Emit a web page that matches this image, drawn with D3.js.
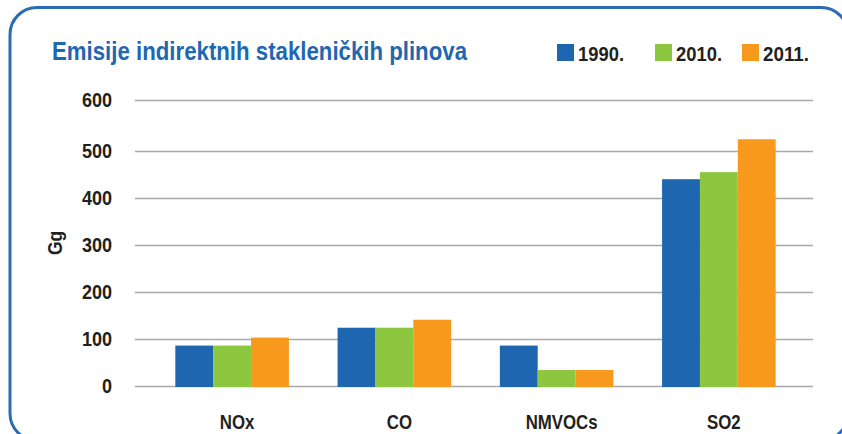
<!DOCTYPE html>
<html>
<head>
<meta charset="utf-8">
<script src="https://d3js.org/d3.v7.min.js"></script>
<style>
    body { margin: 0; background: #fff; }
    svg { display: block; }
    text {
        font-family: "Liberation Sans", Arial, sans-serif;
        font-weight: bold;
        fill: #231f20;
    }
    .grid line { stroke: #a7a9ac; stroke-width: 1.5px; }
    .title { fill: #1f67b1; }
</style>
</head>
<body>
<svg id="chart"></svg>
<script>
    // data
    var pollutants = ["NOx", "CO", "NMVOCs", "SO2"];
    var years = ["1990.", "2010.", "2011."];
    var colors = ["#1f66b0", "#8dc63f", "#f7991c"];
    var v1990 = [86, 124, 86, 440];
    var v2010 = [86, 124, 34, 455];
    var v2011 = [103, 141, 34, 523];
    var yTicks = [0, 100, 200, 300, 400, 500, 600];

    var series = [v1990, v2010, v2011];
    var rows = pollutants.map(function(p, i) {
        return {name: p, values: series.map(function(s, j) { return {year: years[j], value: s[i], k: j}; })};
    });

    var width = 842, height = 434;

    // the original uses a condensed face, so squeeze text horizontally
    function condense(sel, k) {
        sel.each(function() {
            var w = this.getComputedTextLength();
            d3.select(this)
                .attr("textLength", w * k)
                .attr("lengthAdjust", "spacingAndGlyphs");
        });
    }

    var svg = d3.select("#chart")
        .attr("width", width)
        .attr("height", height);

    // rounded frame, partly cut off at right and bottom
    svg.append("rect")
        .attr("x", 10)
        .attr("y", 7.5)
        .attr("width", 838)
        .attr("height", 433)
        .attr("rx", 27)
        .attr("fill", "none")
        .attr("stroke", "#2b6cb5")
        .attr("stroke-width", 3);

    var x0 = d3.scaleBand()
        .domain(pollutants)
        .range([151, 800])
        .paddingInner(0.3)
        .paddingOuter(0.15);

    var x1 = d3.scaleBand()
        .domain(years)
        .range([0, x0.bandwidth()]);

    // original chart has the top step a bit taller
    var y = d3.scaleLinear()
        .domain([0, 500, 600])
        .range([386, 151, 100]);

    var yAxis = d3.axisLeft(y)
        .tickValues(yTicks)
        .tickSize(-678)
        .tickPadding(23);

    var gy = svg.append("g")
        .attr("class", "grid")
        .attr("transform", "translate(135,0)")
        .call(yAxis)
        .attr("font-family", null)
        .attr("font-size", null);
    gy.select(".domain").remove();
    gy.selectAll("line").attr("stroke", null);
    gy.selectAll("text")
        .attr("font-size", 20.5)
        .attr("fill", "#231f20")
        .call(condense, 0.88);

    // bars
    svg.append("g").selectAll("g")
        .data(rows)
        .join("g")
        .attr("transform", function(d) { return "translate(" + x0(d.name) + ",0)"; })
        .selectAll("rect")
        .data(function(d) { return d.values; })
        .join("rect")
        .attr("x", function(d) { return x1(d.year); })
        .attr("width", x1.bandwidth())
        .attr("y", function(d) { return y(d.value); })
        .attr("height", function(d) { return y(0) - y(d.value) + 1; })
        .attr("fill", function(d) { return colors[d.k]; });

    // category labels
    svg.append("g").selectAll("text")
        .data(pollutants)
        .join("text")
        .attr("x", function(d) { return x0(d) + x0.bandwidth() / 2 + 5; })
        .attr("y", 429)
        .attr("text-anchor", "middle")
        .attr("font-size", 20.5)
        .text(function(d) { return d; })
        .call(condense, 0.82);

    // y label
    svg.append("text")
        .attr("transform", "translate(62,243) rotate(-90)")
        .attr("text-anchor", "middle")
        .attr("font-size", 20.5)
        .text("Gg")
        .call(condense, 0.85);

    // title
    svg.append("text")
        .attr("class", "title")
        .attr("x", 52)
        .attr("y", 60)
        .attr("font-size", 25)
        .attr("textLength", 415)
        .attr("lengthAdjust", "spacingAndGlyphs")
        .text("Emisije indirektnih stakleničkih plinova");

    // legend
    var legX = [557, 655, 742];
    var leg = svg.append("g").selectAll("g")
        .data(years)
        .join("g")
        .attr("transform", function(d, i) { return "translate(" + legX[i] + ",44)"; });
    leg.append("rect")
        .attr("width", 17)
        .attr("height", 17)
        .attr("fill", function(d, i) { return colors[i]; });
    leg.append("text")
        .attr("x", 21)
        .attr("y", 16.5)
        .attr("font-size", 20)
        .attr("textLength", 46)
        .attr("lengthAdjust", "spacingAndGlyphs")
        .text(function(d) { return d; });
</script>
</body>
</html>
